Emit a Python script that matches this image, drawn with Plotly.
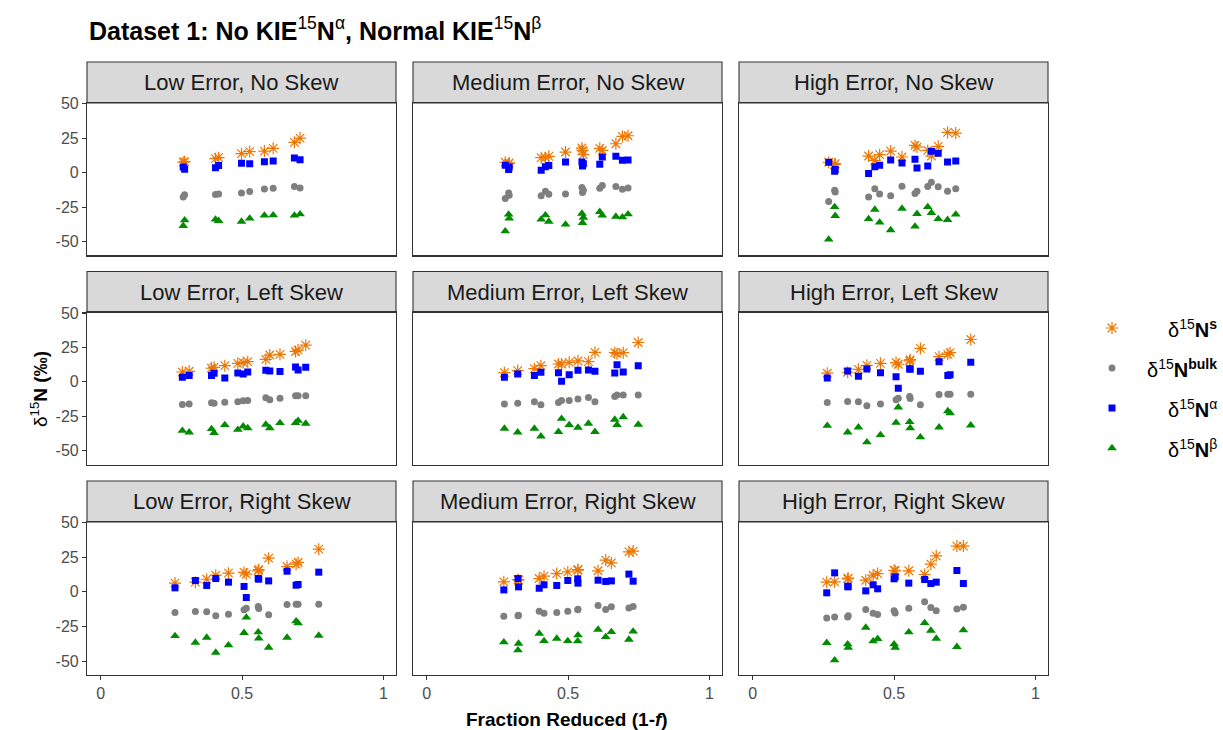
import plotly.graph_objects as go

# ---------------- data ----------------
strip_titles = ["Low Error, No Skew", "Medium Error, No Skew", "High Error, No Skew",
                "Low Error, Left Skew", "Medium Error, Left Skew", "High Error, Left Skew",
                "Low Error, Right Skew", "Medium Error, Right Skew", "High Error, Right Skew"]

x_low_no = [0.292, 0.297, 0.406, 0.417, 0.498, 0.527, 0.579, 0.610, 0.685, 0.705]
s_low_no = [7.5, 7.9, 10.1, 10.8, 13.7, 15.2, 15.6, 17.6, 21.9, 25.0]
bulk_low_no = [-17.6, -16.1, -15.9, -15.4, -14.7, -13.7, -11.8, -11.3, -10.1, -11.1]
alpha_low_no = [4.1, 2.4, 3.6, 5.1, 6.7, 6.5, 7.9, 8.4, 10.6, 9.4]
beta_low_no = [-38.5, -34.4, -33.9, -34.9, -35.4, -33.2, -31.0, -30.8, -31.0, -30.1]

x_med_no = [0.278, 0.290, 0.292, 0.405, 0.420, 0.432, 0.491, 0.549, 0.551, 0.554, 0.612, 0.621, 0.669, 0.692, 0.712]
s_med_no = [7.5, 6.5, 7.0, 10.8, 10.8, 11.8, 14.9, 17.8, 16.1, 13.0, 17.6, 16.1, 20.9, 26.2, 26.7]
bulk_med_no = [-18.8, -14.7, -16.4, -16.8, -13.5, -15.6, -15.4, -10.8, -14.4, -12.8, -11.3, -9.4, -10.1, -12.0, -11.1]
alpha_med_no = [5.3, 2.2, 4.1, 1.7, 4.3, 5.1, 7.7, 7.7, 4.8, 6.5, 6.0, 11.3, 11.8, 8.9, 9.1]
beta_med_no = [-42.4, -30.3, -33.2, -33.9, -30.8, -35.4, -37.5, -29.6, -36.3, -32.5, -28.4, -31.0, -31.8, -32.3, -30.1]

x_high_no = [0.269, 0.290, 0.292, 0.410, 0.432, 0.449, 0.488, 0.528, 0.574, 0.581, 0.619, 0.632, 0.656, 0.689, 0.718]
s_high_no = [7.5, 5.8, 6.5, 12.0, 8.9, 13.0, 15.6, 11.3, 19.7, 18.5, 16.1, 12.0, 19.0, 29.1, 28.6]
bulk_high_no = [-20.9, -12.8, -14.0, -17.6, -11.6, -15.4, -16.8, -9.9, -15.2, -13.5, -10.1, -7.0, -10.3, -13.5, -11.6]
alpha_high_no = [7.5, 1.0, 2.2, -0.7, 4.3, 5.3, 9.1, 7.0, 9.6, 3.4, 4.8, 15.4, 14.0, 7.7, 8.4]
beta_high_no = [-48.4, -24.8, -31.3, -33.5, -26.7, -36.1, -41.6, -26.0, -39.0, -29.8, -24.8, -29.1, -33.5, -34.2, -30.3]

x_low_left = [0.289, 0.313, 0.392, 0.401, 0.439, 0.485, 0.504, 0.520, 0.584, 0.598, 0.634, 0.689, 0.698, 0.725]
s_low_left = [7.2, 7.7, 9.9, 10.6, 11.8, 13.5, 14.0, 14.7, 16.4, 19.5, 20.0, 22.1, 23.1, 26.7]
bulk_low_left = [-16.4, -16.1, -15.2, -15.6, -14.7, -14.4, -13.7, -13.5, -11.6, -13.0, -11.8, -10.1, -10.1, -10.1]
alpha_low_left = [3.4, 4.6, 4.6, 6.3, 2.9, 6.5, 5.8, 7.2, 8.4, 7.9, 7.5, 10.8, 8.7, 10.6]
beta_low_left = [-35.4, -36.6, -34.2, -37.1, -31.3, -34.7, -32.3, -33.5, -31.0, -33.5, -29.8, -29.8, -28.2, -30.3]

x_med_left = [0.275, 0.322, 0.381, 0.404, 0.466, 0.477, 0.504, 0.535, 0.572, 0.595, 0.665, 0.673, 0.695, 0.748]
s_med_left = [6.7, 8.2, 9.6, 11.8, 13.0, 13.0, 14.2, 15.2, 14.7, 21.4, 21.2, 20.5, 21.2, 28.6]
bulk_med_left = [-16.1, -15.6, -14.4, -16.6, -14.9, -13.5, -13.5, -12.5, -11.3, -14.4, -10.6, -9.6, -9.6, -9.6]
alpha_med_left = [3.4, 5.8, 4.6, 7.0, 6.7, 0.5, 5.1, 8.4, 8.7, 7.7, 6.5, 12.5, 7.2, 11.8]
beta_med_left = [-33.9, -36.6, -33.9, -39.5, -36.3, -26.7, -31.3, -33.2, -30.3, -36.3, -27.4, -31.3, -25.5, -31.0]

x_high_left = [0.264, 0.336, 0.374, 0.404, 0.452, 0.507, 0.515, 0.555, 0.557, 0.593, 0.659, 0.690, 0.698, 0.771]
s_high_left = [6.3, 7.0, 9.1, 12.0, 13.5, 14.0, 12.8, 15.2, 16.1, 24.3, 18.3, 20.0, 21.2, 30.8]
bulk_high_left = [-14.9, -14.2, -14.4, -17.3, -16.1, -13.0, -11.8, -10.6, -12.0, -16.6, -9.1, -8.9, -8.9, -8.9]
alpha_high_left = [2.9, 7.9, 4.1, 9.4, 6.7, 3.8, -4.6, 9.6, 9.1, 7.7, 14.7, 4.6, 5.1, 14.2]
beta_high_left = [-31.8, -36.6, -33.0, -43.8, -38.5, -29.6, -18.5, -29.1, -33.5, -40.2, -33.0, -21.2, -22.6, -31.5]

x_low_right = [0.263, 0.335, 0.375, 0.407, 0.452, 0.507, 0.515, 0.557, 0.559, 0.594, 0.659, 0.691, 0.698, 0.771]
s_low_right = [6.3, 7.0, 9.1, 12.0, 13.5, 14.0, 12.8, 15.2, 16.1, 24.3, 18.3, 20.0, 21.2, 30.8]
bulk_low_right = [-14.9, -14.2, -14.4, -17.3, -16.1, -13.0, -11.8, -10.6, -12.0, -16.6, -9.1, -8.9, -8.9, -8.9]
alpha_low_right = [2.9, 8.2, 4.6, 9.6, 7.0, 3.9, -4.1, 9.6, 9.1, 7.9, 14.9, 4.8, 5.3, 14.2]
beta_low_right = [-31.8, -36.6, -33.0, -43.8, -38.5, -29.6, -18.5, -29.1, -33.5, -40.2, -33.0, -21.2, -22.6, -31.5]

x_med_right = [0.273, 0.323, 0.325, 0.398, 0.415, 0.460, 0.499, 0.534, 0.535, 0.606, 0.633, 0.653, 0.715, 0.730]
s_med_right = [7.2, 8.9, 8.4, 9.6, 11.3, 13.2, 14.4, 15.6, 16.1, 15.2, 22.9, 20.9, 28.9, 29.4]
bulk_med_right = [-17.6, -17.3, -16.8, -14.0, -15.4, -14.9, -14.0, -13.0, -12.5, -9.9, -12.8, -10.8, -11.6, -10.6]
alpha_med_right = [1.4, 9.6, 3.6, 2.6, 5.1, 4.6, 8.2, 9.4, 6.3, 8.4, 7.5, 7.9, 12.8, 7.7]
beta_med_right = [-36.3, -42.1, -37.3, -30.1, -35.4, -33.7, -35.4, -35.6, -31.3, -27.2, -32.5, -28.9, -34.4, -28.6]

x_high_right = [0.262, 0.290, 0.336, 0.338, 0.400, 0.426, 0.442, 0.500, 0.504, 0.552, 0.608, 0.630, 0.649, 0.722, 0.745]
s_high_right = [7.0, 7.2, 9.4, 9.9, 8.4, 12.0, 13.2, 15.6, 15.2, 15.2, 12.5, 20.0, 26.0, 33.0, 33.0]
bulk_high_right = [-18.8, -18.1, -18.1, -17.3, -12.8, -15.4, -16.4, -13.7, -15.2, -11.8, -7.2, -11.3, -13.7, -12.3, -11.1]
alpha_high_right = [-0.7, 13.7, 4.1, 3.6, 0.7, 5.1, 2.2, 9.4, 10.8, 6.3, 8.9, 6.0, 7.0, 15.4, 6.0]
beta_high_right = [-36.8, -49.3, -37.8, -40.2, -25.8, -35.6, -33.9, -37.8, -40.2, -29.1, -22.4, -27.9, -33.7, -39.7, -27.7]

x_ticks = [0, 0.5, 1]
x_tick_labels = ["0", "0.5", "1"]
y_ticks = [-50, -25, 0, 25, 50]
y_tick_labels = ["-50", "-25", "0", "25", "50"]

series_names = ["s", "bulk", "alpha", "beta"]
legend_labels = ["δ<sup>15</sup><b>N<sup>s</sup></b>",
                 "δ<sup>15</sup><b>N<sup>bulk</sup></b>",
                 "δ<sup>15</sup><b>N</b><sup>α</sup>",
                 "δ<sup>15</sup><b>N</b><sup>β</sup>"]

panels = [
    (x_low_no, s_low_no, bulk_low_no, alpha_low_no, beta_low_no),
    (x_med_no, s_med_no, bulk_med_no, alpha_med_no, beta_med_no),
    (x_high_no, s_high_no, bulk_high_no, alpha_high_no, beta_high_no),
    (x_low_left, s_low_left, bulk_low_left, alpha_low_left, beta_low_left),
    (x_med_left, s_med_left, bulk_med_left, alpha_med_left, beta_med_left),
    (x_high_left, s_high_left, bulk_high_left, alpha_high_left, beta_high_left),
    (x_low_right, s_low_right, bulk_low_right, alpha_low_right, beta_low_right),
    (x_med_right, s_med_right, bulk_med_right, alpha_med_right, beta_med_right),
    (x_high_right, s_high_right, bulk_high_right, alpha_high_right, beta_high_right),
]

# ---------------- styles ----------------
W, H = 1223, 730
FONT = "Liberation Sans, Arial, sans-serif"
styles = {
    "s": dict(symbol="asterisk-open", size=10, color="#EE7600", line=dict(color="#EE7600", width=1.2)),
    "bulk": dict(symbol="circle", size=7, color="#7F7F7F", line=dict(width=0)),
    "alpha": dict(symbol="square", size=7, color="#0000FF", line=dict(width=0)),
    "beta": dict(symbol="triangle-up", size=8.5, color="#008B00", line=dict(width=0)),
}

col_px = [(87, 396), (413, 722), (739, 1048)]
row_px = [(103, 255.5), (312.5, 464.5), (522, 675)]
strip_h = 41
x_range = [-0.048, 1.044]
y_range = [-60, 50.4]
TICK_SIZE = 16


def px_x(p):
    return p / W


def px_y(p):
    return 1 - p / H


fig = go.Figure()
layout = dict(width=W, height=H, margin=dict(l=0, r=0, t=0, b=0, pad=0, autoexpand=False), autosize=False,
              paper_bgcolor="white", plot_bgcolor="white", showlegend=False,
              font=dict(family=FONT, color="#000000"))
shapes = []
annotations = []

for i, (xs, s, bulk, alpha, beta) in enumerate(panels):
    r, c = divmod(i, 3)
    k = i + 1
    xa = "x" if k == 1 else f"x{k}"
    ya = "y" if k == 1 else f"y{k}"
    for name, vals in zip(series_names, [s, bulk, alpha, beta]):
        st = styles[name]
        fig.add_trace(go.Scatter(x=xs, y=vals, mode="markers", xaxis=xa, yaxis=ya,
                                 marker=dict(symbol=st["symbol"], size=st["size"], color=st["color"],
                                             line=st["line"]),
                                 hoverinfo="skip", name=name))
    x0p, x1p = col_px[c]
    y0p, y1p = row_px[r]
    bottom = (r == 2)
    left = (c == 0)
    layout["xaxis" + ("" if k == 1 else str(k))] = dict(
        domain=[px_x(x0p), px_x(x1p)], range=x_range, anchor=ya,
        showgrid=False, zeroline=False, showline=True, mirror=True,
        linecolor="#333333", linewidth=1.1,
        tickvals=x_ticks, ticktext=x_tick_labels,
        ticks="outside" if bottom else "", ticklen=4, tickcolor="#333333", tickwidth=1.1,
        showticklabels=bottom, tickfont=dict(size=TICK_SIZE, color="#4D4D4D", family=FONT))
    layout["yaxis" + ("" if k == 1 else str(k))] = dict(
        domain=[px_y(y1p), px_y(y0p)], range=y_range, anchor=xa,
        showgrid=False, zeroline=False, showline=True, mirror=True,
        linecolor="#333333", linewidth=1.1,
        tickvals=y_ticks, ticktext=y_tick_labels,
        ticks="outside" if left else "", ticklen=4, tickcolor="#333333", tickwidth=1.1,
        showticklabels=left, tickfont=dict(size=TICK_SIZE, color="#4D4D4D", family=FONT))
    # strip
    shapes.append(dict(type="rect", xref="paper", yref="paper",
                       x0=px_x(x0p), x1=px_x(x1p), y0=px_y(y0p), y1=px_y(y0p - strip_h),
                       fillcolor="#D9D9D9", line=dict(color="#333333", width=1.1), layer="below"))
    annotations.append(dict(xref="paper", yref="paper", x=px_x((x0p + x1p) / 2),
                            y=px_y(y0p - strip_h / 2), text=strip_titles[i], showarrow=False,
                            xanchor="center", yanchor="middle",
                            font=dict(size=22, color="#1A1A1A", family=FONT)))

# legend on its own hidden axes
leg_x = [0.5, 0.5, 0.5, 0.5]
leg_y = [3, 2, 1, 0]
layout["xaxis10"] = dict(domain=[px_x(1100), px_x(1124)], range=[0, 1], visible=False, anchor="y10")
layout["yaxis10"] = dict(domain=[px_y(468), px_y(308)], range=[-0.5, 3.5], visible=False, anchor="x10")
for j, name in enumerate(series_names):
    st = styles[name]
    fig.add_trace(go.Scatter(x=[leg_x[j]], y=[leg_y[j]], mode="markers", xaxis="x10", yaxis="y10",
                             marker=dict(symbol=st["symbol"], size=st["size"], color=st["color"],
                                         line=st["line"]), hoverinfo="skip"))
    annotations.append(dict(xref="paper", yref="y10", x=px_x(1219), y=leg_y[j], text=legend_labels[j],
                            showarrow=False, xanchor="right", yanchor="middle",
                            font=dict(size=20, color="#000000", family=FONT)))

# titles
annotations.append(dict(xref="paper", yref="paper", x=px_x(87), y=px_y(29), xanchor="left", yanchor="middle",
                        text="<b>Dataset 1: No KIE</b><sup>15</sup><b>N</b><sup>α</sup>"
                             "<b>, Normal KIE</b><sup>15</sup><b>N</b><sup>β</sup>",
                        showarrow=False, font=dict(size=25, color="#000000", family=FONT)))
annotations.append(dict(xref="paper", yref="paper", x=px_x(567), y=px_y(719), xanchor="center", yanchor="middle",
                        text="<b>Fraction Reduced (1-<i>f</i>)</b>", showarrow=False,
                        font=dict(size=19, color="#000000", family=FONT)))
annotations.append(dict(xref="paper", yref="paper", x=px_x(39), y=px_y(389), xanchor="center", yanchor="middle",
                        text="δ<sup>15</sup><b>N (‰)</b>", textangle=-90, showarrow=False,
                        font=dict(size=19, color="#000000", family=FONT)))

layout["shapes"] = shapes
layout["annotations"] = annotations
fig.update_layout(**layout)
fig.write_html("out.html", config={"displayModeBar": False, "staticPlot": True},
               post_script="document.body.style.margin='0px';document.body.style.padding='0px';"
                           "document.documentElement.style.overflow='hidden';")
